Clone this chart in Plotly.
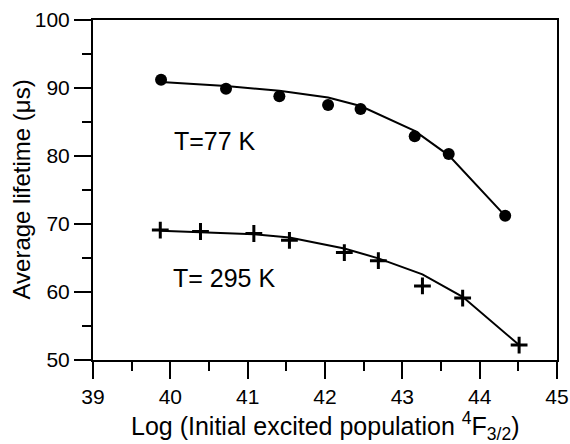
import plotly.graph_objects as go

# Data
x_77 = [39.88, 40.72, 41.41, 42.04, 42.46, 43.16, 43.60, 44.33]
y_77 = [91.2, 89.9, 88.8, 87.5, 86.9, 82.9, 80.3, 71.2]
fit_x_77 = [39.88, 40.72, 41.41, 42.04, 42.46, 43.16, 43.60, 44.33]
fit_y_77 = [90.9, 90.3, 89.6, 88.6, 87.35, 83.7, 80.1, 71.2]

x_295 = [39.87, 40.39, 41.08, 41.54, 42.25, 42.69, 43.26, 43.78, 44.51]
y_295 = [69.1, 68.9, 68.6, 67.6, 65.8, 64.6, 60.9, 59.1, 52.2]
fit_x_295 = [39.87, 40.39, 41.08, 41.54, 42.25, 42.69, 43.26, 43.78, 44.51]
fit_y_295 = [69.0, 68.8, 68.5, 68.0, 66.4, 64.95, 62.6, 59.3, 52.2]

labels = ["T=77 K", "T= 295 K"]
label_x = [40.58, 40.69]
label_y = [82.2, 62.0]

x_ticks = [39, 40, 41, 42, 43, 44, 45]
y_ticks = [50, 60, 70, 80, 90, 100]

x_title = "Log (Initial excited population <sup>4</sup>F<sub>3/2</sub>)"
y_title = "Average lifetime (μs)"

FONT = "Liberation Sans, Arial, sans-serif"

fig = go.Figure()
fig.add_trace(go.Scatter(x=fit_x_77, y=fit_y_77, mode="lines",
                         line=dict(color="black", width=2), showlegend=False))
fig.add_trace(go.Scatter(x=x_77, y=y_77, mode="markers",
                         marker=dict(symbol="circle", size=12, color="black"),
                         showlegend=False))
fig.add_trace(go.Scatter(x=fit_x_295, y=fit_y_295, mode="lines",
                         line=dict(color="black", width=2), showlegend=False))
fig.add_trace(go.Scatter(x=x_295, y=y_295, mode="markers",
                         marker=dict(symbol="cross-thin", size=12, color="black",
                                     line=dict(color="black", width=3)),
                         showlegend=False))

for t, lx, ly in zip(labels, label_x, label_y):
    fig.add_annotation(x=lx, y=ly, text=t, showarrow=False,
                       font=dict(size=25, color="black", family=FONT))

# Axis titles as annotations for precise placement
fig.add_annotation(text=x_title, xref="paper", yref="paper", x=0.5, y=0,
                   xanchor="center", yanchor="top", yshift=-46, showarrow=False,
                   font=dict(size=25, color="black", family=FONT))
fig.add_annotation(text=y_title, xref="paper", yref="paper", x=0, y=0.5,
                   xanchor="right", yanchor="middle", xshift=-57, textangle=-90,
                   showarrow=False, font=dict(size=24, color="black", family=FONT))

axis_common = dict(
    showgrid=False, zeroline=False, showline=True, linecolor="black",
    linewidth=2, mirror=True, ticks="outside", ticklen=17, tickwidth=2,
    tickcolor="black", tickfont=dict(size=21, color="black", family=FONT),
    automargin=False,
)

fig.update_xaxes(range=[39, 45], tickvals=x_ticks,
                 minor=dict(dtick=0.5, ticks="outside", ticklen=9, tickwidth=2,
                            tickcolor="black"),
                 **axis_common)
fig.update_yaxes(range=[50, 100], tickvals=y_ticks,
                 minor=dict(dtick=5, ticks="outside", ticklen=9, tickwidth=2,
                            tickcolor="black"),
                 **axis_common)

fig.update_layout(
    width=570, height=444,
    margin=dict(l=93, r=13, t=20, b=84),
    plot_bgcolor="white", paper_bgcolor="white",
)

fig.write_html("out.html")
